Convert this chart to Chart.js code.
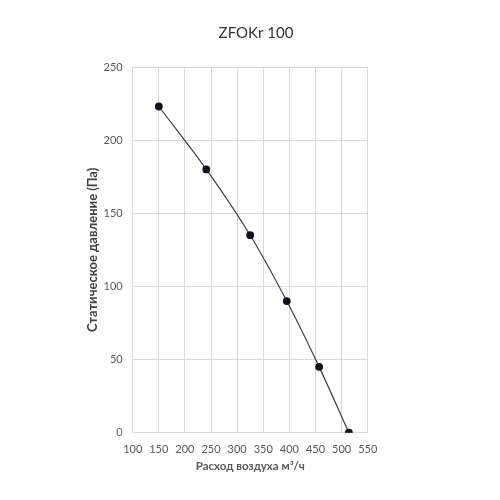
<!DOCTYPE html>
<html>
<head>
<meta charset="utf-8">
<script src="https://cdn.jsdelivr.net/npm/chart.js@4"></script>
<style>
  html, body { margin: 0; padding: 0; background: #fff; }
  #wrap { width: 500px; height: 500px; }
</style>
</head>
<body>
<div id="wrap"><canvas id="fanChart"></canvas></div>
<script>
const airflow = [150, 241, 325, 395, 457, 514];
const pressure = [223, 180, 135, 90, 45, 0];

const points = airflow.map((x, i) => ({ x: x, y: pressure[i] }));

const fanChart = new Chart(document.getElementById('fanChart').getContext('2d'), {
    type: 'scatter',
    data: {
        datasets: [{
            data: points,
            showLine: true,
            borderColor: '#404040',
            borderWidth: 1.2,
            tension: 0.3,
            pointRadius: 3.3,
            pointBackgroundColor: '#111122',
            pointBorderColor: '#111122'
        }]
    },
    options: {
        responsive: true,
        maintainAspectRatio: false,
        animation: false,
        layout: { padding: { left: 12, right: 0, top: 0, bottom: 20 } },
        plugins: {
            legend: { display: false },
            tooltip: { enabled: false },
            title: {
                display: true,
                text: 'ZFOKr 100',
                color: '#333333',
                font: { family: 'Lato', size: 15, weight: 'normal' },
                padding: { top: 24, bottom: 25 }
            }
        },
        scales: {
            x: {
                type: 'linear',
                min: 100,
                max: 550,
                ticks: { stepSize: 50, color: '#595959', padding: 10, font: { family: 'Lato', size: 11 } },
                grid: { color: '#d9d9d9', drawTicks: false },
                border: { color: '#d9d9d9' },
                title: {
                    display: true,
                    text: 'Расход воздуха м³/ч',
                    color: '#595959',
                    font: { family: 'Lato', size: 11.5, weight: 'bold' },
                    padding: { top: 0, bottom: 7 }
                },
                afterFit: function (scale) { scale.height = 47.3; }
            },
            y: {
                min: 0,
                max: 250,
                ticks: { stepSize: 50, color: '#595959', padding: 10, font: { family: 'Lato', size: 11 } },
                grid: { color: '#d9d9d9', drawTicks: false },
                border: { color: '#d9d9d9' },
                title: {
                    display: true,
                    text: 'Статическое давление (Па)',
                    color: '#404040',
                    font: { family: 'Lato', size: 13, weight: 'bold' },
                    padding: { top: 73, bottom: 0 }
                },
                afterFit: function (scale) { scale.width = 120.7; }
            },
            // empty right-hand spacer so the plot sits left of centre
            yRight: {
                position: 'right',
                ticks: { display: false },
                grid: { display: false },
                border: { display: false },
                afterFit: function (scale) { scale.width = 132.3; }
            }
        }
    }
});
</script>
</body>
</html>
